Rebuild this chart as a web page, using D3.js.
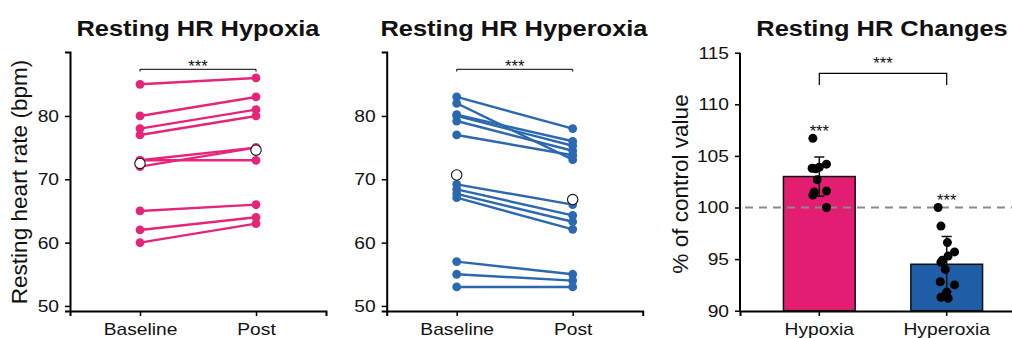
<!DOCTYPE html>
<html>
<head>
<meta charset="utf-8">
<script src="https://cdn.jsdelivr.net/npm/d3@7"></script>
<style>
body { margin: 0; background: #fff; }
text { font-family: "Liberation Sans", Arial, sans-serif; fill: #111; }
</style>
</head>
<body>
<svg id="chart" width="1012" height="338"></svg>
<script>
// resting heart rate, paired panels + % change bars
var conditions = ["Baseline", "Post"];
var hypoxiaBaseline = [85, 80, 78, 77, 73, 72, 73, 65, 62, 60];
var hypoxiaPost     = [86, 83, 81, 80, 75, 75, 73, 66, 64, 63];
var hyperoxiaBaseline = [83, 82, 80.2, 80, 79.2, 77, 69.2, 68.4, 67.7, 67.1, 57, 55, 53];
var hyperoxiaPost     = [78, 73.1, 76, 75.3, 74.5, 73.8, 66, 64.3, 63.3, 62.1, 55, 54, 53];
var hrTicks = [50, 60, 70, 80];

var groups = ["Hypoxia", "Hyperoxia"];
var changeMeans = [103.0, 94.5];
var changeSD = [1.9, 2.7];
var hypoxiaChange   = [106.7, 104.2, 103.9, 103.8, 103.75, 102.7, 101.6, 101.5, 101.2, 100.0];
var hyperoxiaChange = [100.0, 98.2, 96.6, 95.7, 95.3, 94.9, 94.7, 94.0, 92.8, 92.5, 91.8, 91.3, 91.2];
// horizontal jitter of the dots, as a fraction of the bar width
var hypoxiaJitter   = [-0.09, 0.10, 0.0, -0.10, -0.05, -0.03, 0.10, -0.07, -0.09, 0.10];
var hyperoxiaJitter = [-0.12, -0.08, 0.01, 0.11, 0.02, -0.06, -0.08, -0.02, -0.09, 0.11, 0.0, -0.08, 0.02];
var changeTicks = [90, 95, 100, 105, 110, 115];

var pink = "#e5257a", pinkBar = "#e31e72";
var blue = "#2c68b0", blueBar = "#1f5da6";

var svg = d3.select("#chart");

function widen(sel, k) {
  sel.each(function () {
    var w = this.getComputedTextLength();
    d3.select(this).attr("textLength", w * k).attr("lengthAdjust", "spacingAndGlyphs");
  });
}

function styleAxis(g) {
  g.select(".domain").attr("stroke", "#000").attr("stroke-width", 2);
  g.selectAll(".tick line").attr("stroke", "#000").attr("stroke-width", 1.5);
  g.selectAll(".tick text").attr("font-size", 17).attr("fill", "#111")
    .style("font-family", "'Liberation Sans', Arial, sans-serif");
  widen(g.selectAll(".tick text"), 1.13);
}

function title(txt, x) {
  var t = svg.append("text")
      .attr("x", x).attr("y", 36)
      .attr("text-anchor", "middle")
      .attr("font-size", 22.5).attr("font-weight", "bold")
      .text(txt);
  widen(t, 1.13);
}

function yTitle(txt, x, y) {
  var t = svg.append("text")
      .attr("transform", "translate(" + x + "," + y + ") rotate(-90)")
      .attr("text-anchor", "middle")
      .attr("font-size", 21.5)
      .text(txt);
  widen(t, 1.05);
}

function stars(x, y) {
  svg.append("text")
      .attr("x", x).attr("y", y)
      .attr("text-anchor", "middle")
      .attr("font-size", 16.5)
      .text("***");
}

var y = d3.scaleLinear().domain([49.2, 90.1]).range([311, 52]);

function pairedPanel(left, base, post, color, name, titleX) {
  var x = d3.scalePoint().domain(conditions).range([left, left + 256]).padding(0.6034);

  var gx = svg.append("g")
      .attr("transform", "translate(0,311)")
      .call(d3.axisBottom(x).tickSizeOuter(0).tickSize(5).tickPadding(6));
  styleAxis(gx);
  gx.selectAll(".tick text").attr("dy", "0.71em").attr("y", 11.5);

  var gy = svg.append("g")
      .attr("transform", "translate(" + left + ",0)")
      .call(d3.axisLeft(y).tickValues(hrTicks).tickSizeOuter(0).tickSize(5).tickPadding(6));
  styleAxis(gy);

  var line = d3.line()
      .x(function (d) { return x(d.c); })
      .y(function (d) { return y(d.v); });

  var pairs = base.map(function (b, i) {
    return [{c: "Baseline", v: b}, {c: "Post", v: post[i]}];
  });

  svg.append("g").selectAll("path")
      .data(pairs)
    .enter().append("path")
      .attr("d", line)
      .attr("fill", "none")
      .attr("stroke", color)
      .attr("stroke-width", 2.4);

  var pts = [];
  pairs.forEach(function (p) { pts.push(p[0], p[1]); });
  svg.append("g").selectAll("circle")
      .data(pts)
    .enter().append("circle")
      .attr("cx", function (d) { return x(d.c); })
      .attr("cy", function (d) { return y(d.v); })
      .attr("r", 4.4)
      .attr("fill", color);

  var means = [{c: "Baseline", v: d3.mean(base)}, {c: "Post", v: d3.mean(post)}];
  svg.append("g").selectAll("circle")
      .data(means)
    .enter().append("circle")
      .attr("cx", function (d) { return x(d.c); })
      .attr("cy", function (d) { return y(d.v); })
      .attr("r", 5.2)
      .attr("fill", "#fff")
      .attr("stroke", "#111")
      .attr("stroke-width", 1.1);

  var xb = x("Baseline"), xp = x("Post");
  svg.append("path")
      .attr("d", "M" + xb + ",71.5V69.3H" + xp + "V71.5")
      .attr("fill", "none").attr("stroke", "#000").attr("stroke-width", 1);
  stars((xb + xp) / 2, 71.5);

  title(name, titleX);
}

pairedPanel(70, hypoxiaBaseline, hypoxiaPost, pink, "Resting HR Hypoxia", 198);
pairedPanel(386.7, hyperoxiaBaseline, hyperoxiaPost, blue, "Resting HR Hyperoxia", 514);
yTitle("Resting heart rate (bpm)", 27, 182);

// --- percent change bars
var xc = d3.scaleBand().domain(groups).range([740, 1026]).paddingInner(0.437).paddingOuter(0.341);
var yc = d3.scaleLinear().domain([90, 115]).range([310.7, 52.7]);
var bw = xc.bandwidth();

var gcx = svg.append("g")
    .attr("transform", "translate(0,311)")
    .call(d3.axisBottom(xc).tickSizeOuter(0).tickSize(5).tickPadding(6));
styleAxis(gcx);
gcx.selectAll(".tick text").attr("dy", "0.71em").attr("y", 11.5);

var gcy = svg.append("g")
    .attr("transform", "translate(740,0)")
    .call(d3.axisLeft(yc).tickValues(changeTicks).tickSizeOuter(0).tickSize(5).tickPadding(6));
styleAxis(gcy);
gcy.select(".domain").attr("d", "M0," + yc(90) + "V" + yc(115));

var barFills = [pinkBar, blueBar];
svg.append("g").selectAll("rect")
    .data(groups)
  .enter().append("rect")
    .attr("x", function (d) { return xc(d); })
    .attr("width", bw)
    .attr("y", function (d, i) { return yc(changeMeans[i]); })
    .attr("height", function (d, i) { return yc(90) - yc(changeMeans[i]); })
    .attr("fill", function (d, i) { return barFills[i]; })
    .attr("stroke", "#111")
    .attr("stroke-width", 1.5);

svg.append("line")
    .attr("x1", 741).attr("x2", 1012)
    .attr("y1", yc(100)).attr("y2", yc(100))
    .attr("stroke", "#8a8a8a")
    .attr("stroke-width", 2)
    .attr("stroke-dasharray", "8,6")
    .attr("stroke-dashoffset", -4);

groups.forEach(function (g, i) {
  var cx = xc(g) + bw / 2;
  var lo = yc(changeMeans[i] - changeSD[i]), hi = yc(changeMeans[i] + changeSD[i]);
  svg.append("path")
      .attr("d", "M" + cx + "," + lo + "V" + hi +
                 "M" + (cx - 5) + "," + hi + "H" + (cx + 5) +
                 "M" + (cx - 5) + "," + lo + "H" + (cx + 5))
      .attr("fill", "none").attr("stroke", "#111").attr("stroke-width", 1.5);
});

function dots(g, vals, jit) {
  var cx = xc(g) + bw / 2;
  svg.append("g").selectAll("circle")
      .data(vals)
    .enter().append("circle")
      .attr("cx", function (d, i) { return cx + jit[i] * bw; })
      .attr("cy", function (d) { return yc(d); })
      .attr("r", 4.5)
      .attr("fill", "#000");
}
dots("Hypoxia", hypoxiaChange, hypoxiaJitter);
dots("Hyperoxia", hyperoxiaChange, hyperoxiaJitter);

var c1 = xc("Hypoxia") + bw / 2, c2 = xc("Hyperoxia") + bw / 2;
svg.append("path")
    .attr("d", "M" + c1 + ",85V73.3H" + c2 + "V85")
    .attr("fill", "none").attr("stroke", "#000").attr("stroke-width", 1.2);
stars((c1 + c2) / 2, 68.8);
stars(c1, 136.5);
stars(c2, 205.8);

title("Resting HR Changes", 882);
yTitle("% of control value", 688, 184);
</script>
</body>
</html>
